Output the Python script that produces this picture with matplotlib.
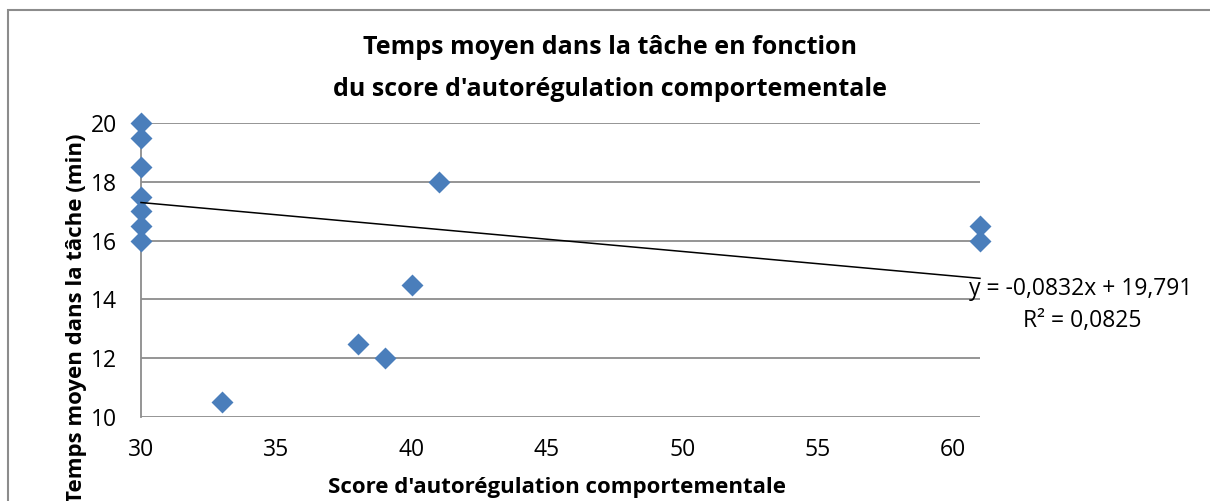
import matplotlib.pyplot as plt
from matplotlib.patches import Rectangle

# data
score = [30, 30, 30, 30, 30, 30, 30, 33, 38, 39, 40, 41, 61, 61]
temps = [20, 19.5, 18.5, 17.5, 17, 16.5, 16, 10.5, 12.5, 12, 14.5, 18, 16.5, 16]
slope = -0.0832
intercept = 19.791
r2 = 0.0825
xticks = [30, 35, 40, 45, 50, 55, 60]
yticks = [10, 12, 14, 16, 18, 20]

plt.rcParams['font.family'] = ['Open Sans', 'DejaVu Sans']

fig = plt.figure(figsize=(12.1, 5.01), dpi=100)
ax = fig.add_axes([141 / 1210, 1 - 417 / 501, 839 / 1210, 294 / 501])

# chart frame (cut on right/bottom in the reference)
fig.patches.append(Rectangle((8 / 1210, -0.1), 1.2, 1 - 10 / 501 + 0.1,
                             transform=fig.transFigure, fill=False,
                             edgecolor='#8c8c8c', lw=1.5))

ax.set_xlim(30, 61)
ax.set_ylim(10, 20)
ax.set_xticks(xticks)
ax.set_yticks(yticks)
ax.yaxis.grid(True, color='#8c8c8c', lw=1.3)
ax.set_axisbelow(True)
for s in ['top', 'right', 'bottom']:
    ax.spines[s].set_visible(False)
ax.spines['left'].set_color('#8c8c8c')
ax.spines['left'].set_linewidth(1.3)
ax.tick_params(length=0, labelsize=16.5)
ax.tick_params(axis='y', pad=17)
ax.tick_params(axis='x', pad=15)

ax.scatter(score, temps, marker='D', s=125, color='#4a7ebb', zorder=3,
           clip_on=False, linewidths=0)

xs = [min(score), max(score)]
ax.plot(xs, [slope * x + intercept for x in xs], color='black', lw=1.1,
        zorder=4, clip_on=False)

eq = 'y = {:.4f}x + {:.3f}'.format(slope, intercept).replace('.', ',')
fig.text(1081 / 1210, 1 - 289 / 501, eq, ha='center', va='center', fontsize=16.5)
fig.text(1082 / 1210, 1 - 321 / 501, 'R² = {:.4f}'.format(r2).replace('.', ','),
         ha='center', va='center', fontsize=16.5)

fig.text(610 / 1210, 1 - 47 / 501, "Temps moyen dans la tâche en fonction",
         ha='center', va='center', fontsize=18, fontweight='bold')
fig.text(610 / 1210, 1 - 90 / 501, "du score d'autorégulation comportementale",
         ha='center', va='center', fontsize=18, fontweight='bold')
fig.text(557 / 1210, 1 - 488 / 501, "Score d'autorégulation comportementale",
         ha='center', va='center', fontsize=16, fontweight='bold')
fig.text(77 / 1210, 1 - 318 / 501, 'Temps moyen dans la tâche (min)',
         ha='center', va='center', rotation=90, fontsize=16, fontweight='bold')

fig.savefig('out.png', dpi=100)
